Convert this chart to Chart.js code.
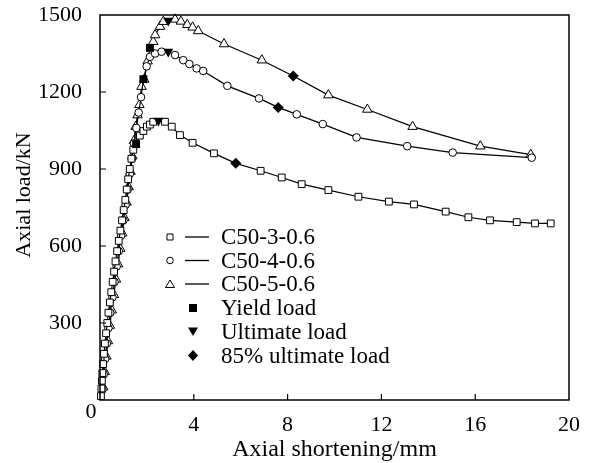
<!DOCTYPE html>
<html>
<head>
<meta charset="utf-8">
<script src="https://cdn.jsdelivr.net/npm/chart.js@4.4.0/dist/chart.umd.min.js"></script>
<style>
  html, body { margin: 0; padding: 0; background: #fff; }
</style>
</head>
<body>
<canvas id="loadChart" width="591" height="463"></canvas>
<script>
// --- Dados ---
const xTicks = [0, 4, 8, 12, 16, 20];
const yTicks = [0, 300, 600, 900, 1200, 1500];

const seriesNames = ['C50-3-0.6', 'C50-4-0.6', 'C50-5-0.6'];
const markerNames = ['Yield load', 'Ultimate load', '85% ultimate load'];

// C50-3-0.6 (quadrados)
const c3X = [0.04, 0.06, 0.08, 0.1, 0.13, 0.17, 0.21, 0.26, 0.31, 0.36, 0.42, 0.48, 0.54, 0.6, 0.66,
  0.73, 0.8, 0.87, 0.94, 1.01, 1.08, 1.14, 1.2, 1.27, 1.34, 1.42, 1.54, 1.7, 1.85, 2.0, 2.13, 2.27,
  2.49, 2.77, 3.06, 3.41, 3.95, 4.86, 5.79, 6.85, 7.75, 8.6, 9.74, 11.02, 12.32, 13.39, 14.74,
  15.71, 16.63, 17.77, 18.55, 19.22];
const c3Y = [15, 45, 75, 105, 140, 180, 220, 260, 300, 340, 380, 420, 460, 500, 540,
  580, 620, 660, 700, 740, 780, 820, 860, 900, 940, 975, 997, 1030, 1048, 1065, 1073, 1084,
  1088, 1084, 1065, 1032, 1002, 961, 922, 893, 867, 841, 818, 792, 773, 762, 734,
  712, 700, 693, 688, 688];

// C50-4-0.6 (círculos)
const c4X = [0.1, 0.16, 0.22, 0.29, 0.36, 0.44, 0.53, 0.62, 0.71, 0.8, 0.9, 1.0, 1.09, 1.18, 1.27,
  1.36, 1.45, 1.55, 1.65, 1.75, 1.85, 1.99, 2.13, 2.35, 2.63, 2.91, 3.2, 3.55, 3.81, 4.12, 4.4,
  5.43, 6.78, 7.6, 8.39, 9.5, 10.94, 13.1, 15.04, 18.41];
const c4Y = [40, 100, 160, 220, 280, 340, 400, 460, 520, 580, 640, 700, 760, 820, 880,
  940, 1000, 1060, 1120, 1180, 1250, 1300, 1337, 1350, 1357, 1357, 1344, 1324, 1309, 1292, 1282,
  1224, 1175, 1140, 1113, 1075, 1023, 989, 964, 944];

// C50-5-0.6 (triângulos)
const c5X = [0.14, 0.2, 0.27, 0.34, 0.42, 0.5, 0.59, 0.68, 0.77, 0.86, 0.95, 1.04, 1.13, 1.22, 1.3,
  1.38, 1.45, 1.52, 1.6, 1.68, 1.77, 1.89, 2.03, 2.13, 2.27, 2.35, 2.56, 2.7, 2.91, 3.2, 3.45,
  3.72, 3.95, 4.19, 5.29, 6.9, 8.24, 9.74, 11.4, 13.33, 16.22, 18.37];
const c5Y = [50, 110, 170, 230, 290, 350, 410, 470, 530, 590, 650, 710, 770, 830, 890,
  950, 1010, 1065, 1110, 1150, 1221, 1249, 1320, 1372, 1396, 1422, 1455, 1474, 1478, 1483, 1475,
  1462, 1452, 1438, 1387, 1324, 1262, 1188, 1132, 1065, 989, 956];

// Pontos característicos (um por série)
const yieldX = [1.54, 1.85, 2.13];
const yieldY = [997, 1250, 1372];
const ultX = [2.49, 2.91, 2.91];
const ultY = [1088, 1357, 1478];
const p85X = [5.79, 7.6, 8.24];
const p85Y = [922, 1140, 1262];

const FONT = '"Liberation Serif", "Times New Roman", serif';

function toPoints(xs, ys) {
    return xs.map((x, i) => ({ x: x, y: ys[i] }));
}

// pontos que já recebem um marcador cheio não mostram o marcador vazado
const specialPts = [].concat(toPoints(yieldX, yieldY), toPoints(ultX, ultY), toPoints(p85X, p85Y));
function isSpecial(p) {
    return specialPts.some(s => s.x === p.x && s.y === p.y);
}

function curve(label, style, radius, xs, ys) {
    return {
        label: label,
        data: toPoints(xs, ys),
        showLine: true,
        borderColor: '#000',
        borderWidth: 1.2,
        pointStyle: style,
        pointRadius: ctx => (ctx.raw && isSpecial(ctx.raw)) ? 0 : radius,
        pointBackgroundColor: '#fff',
        pointBorderColor: '#000',
        pointBorderWidth: 1,
        clip: false,
        order: 2
    };
}

function marks(label, style, radius, rotation, xs, ys) {
    return {
        label: label,
        data: toPoints(xs, ys),
        showLine: false,
        pointStyle: style,
        pointRadius: radius,
        pointRotation: rotation,
        pointBackgroundColor: '#000',
        pointBorderColor: '#000',
        pointBorderWidth: 0,
        clip: false,
        order: 1
    };
}

// --- Moldura e ticks internos ---
const framePlugin = {
    id: 'frame',
    afterDatasetsDraw(chart) {
        const { ctx, chartArea: a, scales } = chart;
        ctx.save();
        ctx.strokeStyle = '#000';
        ctx.lineWidth = 1.5;
        ctx.strokeRect(a.left, a.top, a.right - a.left, a.bottom - a.top);
        ctx.lineWidth = 1.2;
        ctx.beginPath();
        xTicks.slice(1, -1).forEach(v => {
            const px = scales.x.getPixelForValue(v);
            ctx.moveTo(px, a.bottom);
            ctx.lineTo(px, a.bottom - 6);
        });
        yTicks.slice(1, -1).forEach(v => {
            const py = scales.y.getPixelForValue(v);
            ctx.moveTo(a.left, py);
            ctx.lineTo(a.left + 6, py);
        });
        ctx.stroke();

        // "0" comum aos dois eixos
        ctx.fillStyle = '#000';
        ctx.font = '22px ' + FONT;
        ctx.textAlign = 'center';
        ctx.textBaseline = 'middle';
        ctx.fillText('0', a.left - 9, a.bottom + 12);

        // título do eixo y
        ctx.translate(24, 195);
        ctx.rotate(-Math.PI / 2);
        ctx.fillText('Axial load/kN', 0, 0);
        ctx.restore();
    }
};

// --- Legenda desenhada dentro da área do gráfico ---
function drawMarker(ctx, kind, x, y, filled) {
    ctx.beginPath();
    if (kind === 'square') {
        const s = filled ? 4 : 3;
        ctx.rect(x - s, y - s, 2 * s, 2 * s);
    } else if (kind === 'circle') {
        ctx.arc(x, y, 3.3, 0, Math.PI * 2);
    } else if (kind === 'triangle') {
        ctx.moveTo(x, y - 4);
        ctx.lineTo(x + 4.5, y + 3.5);
        ctx.lineTo(x - 4.5, y + 3.5);
        ctx.closePath();
    } else if (kind === 'down') {
        ctx.moveTo(x - 5, y - 4);
        ctx.lineTo(x + 5, y - 4);
        ctx.lineTo(x, y + 4.5);
        ctx.closePath();
    } else if (kind === 'diamond') {
        ctx.moveTo(x, y - 5.5);
        ctx.lineTo(x + 5, y);
        ctx.lineTo(x, y + 5.5);
        ctx.lineTo(x - 5, y);
        ctx.closePath();
    }
    if (filled) {
        ctx.fill();
    } else {
        ctx.fillStyle = '#fff';
        ctx.fill();
        ctx.fillStyle = '#000';
        ctx.stroke();
    }
}

const legendPlugin = {
    id: 'innerLegend',
    afterDraw(chart) {
        const ctx = chart.ctx;
        const rows = [237, 260.5, 284, 308, 331.5, 355.5];
        const hollow = ['square', 'circle', 'triangle'];
        const solid = ['square', 'down', 'diamond'];
        ctx.save();
        ctx.strokeStyle = '#000';
        ctx.fillStyle = '#000';
        ctx.lineWidth = 1;
        ctx.font = '23px ' + FONT;
        ctx.textAlign = 'left';
        ctx.textBaseline = 'middle';
        seriesNames.forEach((name, i) => {
            const y = rows[i];
            drawMarker(ctx, hollow[i], 170, y, false);
            ctx.beginPath();
            ctx.lineWidth = 1.3;
            ctx.moveTo(185, y);
            ctx.lineTo(209, y);
            ctx.stroke();
            ctx.lineWidth = 1;
            ctx.fillText(name, 221, y + 1);
        });
        markerNames.forEach((name, i) => {
            const y = rows[i + 3];
            drawMarker(ctx, solid[i], 193, y, true);
            ctx.fillText(name, 221, y + 1);
        });
        ctx.restore();
    }
};

document.addEventListener('DOMContentLoaded', () => {
    const ctx = document.getElementById('loadChart');

    new Chart(ctx, {
        type: 'scatter',
        data: {
            datasets: [
                marks(markerNames[0], 'rect', 5.6, 0, yieldX, yieldY),
                marks(markerNames[1], 'triangle', 5.8, 180, ultX, ultY),
                marks(markerNames[2], 'rectRot', 5.5, 0, p85X, p85Y),
                curve(seriesNames[0], 'rect', 4.8, c3X, c3Y),
                curve(seriesNames[1], 'circle', 3.8, c4X, c4Y),
                curve(seriesNames[2], 'triangle', 5.5, c5X, c5Y)
            ]
        },
        options: {
            responsive: false,
            animation: false,
            layout: { padding: { top: 15, right: 22, left: 0, bottom: 0 } },
            plugins: {
                legend: { display: false },
                tooltip: { enabled: false }
            },
            scales: {
                x: {
                    type: 'linear',
                    min: 0,
                    max: 20,
                    afterFit: s => {
                        s.height = 63;
                        s.paddingLeft = 0;
                        s.paddingRight = 0;
                    },
                    afterBuildTicks: s => { s.ticks = xTicks.map(v => ({ value: v })); },
                    grid: { display: false },
                    border: { display: false },
                    ticks: {
                        color: '#000',
                        padding: 4,
                        font: { family: FONT, size: 22 },
                        callback: v => v === 0 ? '' : v
                    },
                    title: {
                        display: true,
                        text: 'Axial shortening/mm',
                        color: '#000',
                        font: { family: FONT, size: 24, lineHeight: 1 },
                        padding: { top: 0, bottom: 1 }
                    }
                },
                y: {
                    type: 'linear',
                    min: 0,
                    max: 1500,
                    afterFit: s => {
                        s.width = 100;
                        s.paddingTop = 0;
                        s.paddingBottom = 0;
                    },
                    afterBuildTicks: s => { s.ticks = yTicks.map(v => ({ value: v })); },
                    grid: { display: false },
                    border: { display: false },
                    ticks: {
                        color: '#000',
                        padding: 10,
                        font: { family: FONT, size: 22 },
                        callback: v => v === 0 ? '' : v
                    }
                }
            }
        },
        plugins: [framePlugin, legendPlugin]
    });
});
</script>
</body>
</html>
